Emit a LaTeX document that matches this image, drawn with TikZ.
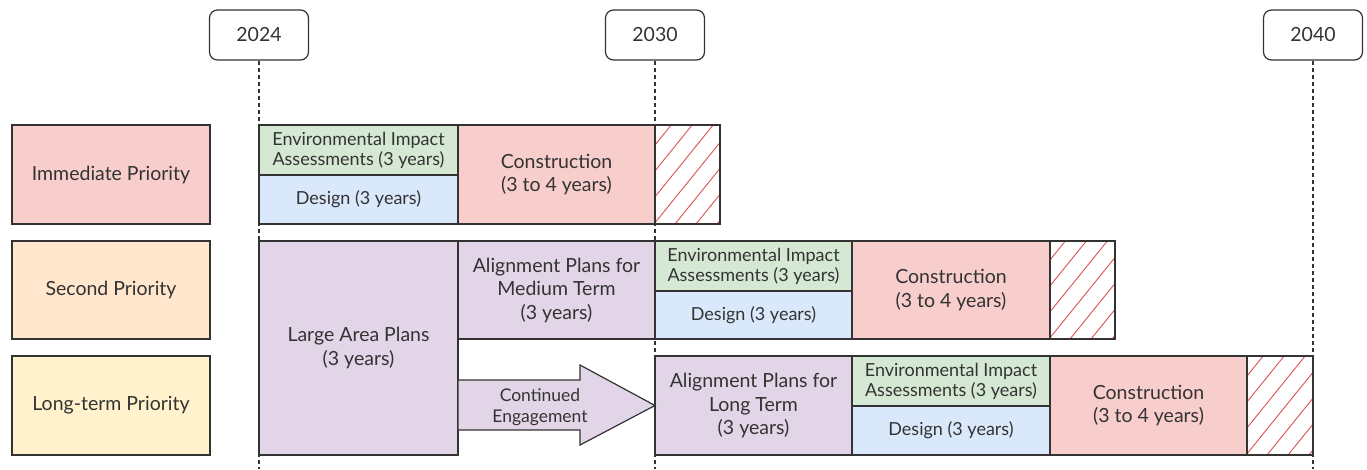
\documentclass[tikz,border=0pt]{standalone}
\usepackage{fontspec}
\setmainfont{Lato}
\definecolor{linec}{HTML}{333333}
\definecolor{textc}{HTML}{333333}
\definecolor{cpink}{HTML}{F8CECC}
\definecolor{cgreen}{HTML}{D5E8D4}
\definecolor{cblue}{HTML}{DAE8FC}
\definecolor{cpurple}{HTML}{E1D5E7}
\definecolor{corange}{HTML}{FFE6CC}
\definecolor{cyellow}{HTML}{FFF2CC}
\definecolor{hatchc}{HTML}{D9534F}
\begin{document}
\begin{tikzpicture}[x=1pt,y=-1pt,
  box/.style={draw=linec, line width=1.2pt, inner sep=0pt, outer sep=0pt, anchor=north west,
    align=center, text=textc, font=\fontsize{19.5}{23.5}\selectfont},
  small/.style={font=\fontsize{18}{20}\selectfont},
  yearbox/.style={draw=linec, line width=1.2pt, rounded corners=8pt, minimum width=99pt,
    minimum height=50pt, inner sep=0pt, text=textc, font=\fontsize{19.5}{23}\selectfont},
  dashline/.style={draw=linec, line width=1.2pt, dash pattern=on 4pt off 3pt},
  hatched/.style={box, fill=white, path picture={
    \foreach \i in {0,...,9}
      \draw[hatchc, line width=0.9pt] ([xshift=\i*21pt-85pt]path picture bounding box.south west) -- ++(85pt,105pt);}},
  arrowline/.style={draw=linec, line width=1.2pt, fill=cpurple, line join=miter}
]
\useasboundingbox (0,0) rectangle (1367,469);

% year markers
\node[yearbox] (y2024) at (259,35) {2024};
\node[yearbox] (y2030) at (655,35) {2030};
\node[yearbox] (y2040) at (1313,35) {2040};
\coordinate (b2024) at (259,469);
\coordinate (b2030) at (655,469);
\coordinate (b2040) at (1313,469);
\draw[dashline] (y2024.south) -- (b2024);
\draw[dashline] (y2030.south) -- (b2030);
\draw[dashline] (y2040.south) -- (b2040);

% priority labels
\node[box, fill=cpink, minimum width=198pt, minimum height=99pt] (p1) at (12,125) {Immediate Priority};
\node[box, fill=corange, minimum width=198pt, minimum height=98pt] (p2) at (12,241) {Second Priority};
\node[box, fill=cyellow, minimum width=198pt, minimum height=99pt] (p3) at (12,356) {Long-term Priority};

% row 1
\node[box, small, fill=cgreen, minimum width=199pt, minimum height=50pt] (eia1) at (259,125) {Environmental Impact\\Assessments (3 years)};
\node[box, small, fill=cblue, minimum width=199pt, minimum height=49pt] (des1) at (259,175) {Design (3 years)};
\node[box, fill=cpink, minimum width=197pt, minimum height=99pt] (con1) at (458,125) {Construction\\(3 to 4 years)};
\node[hatched, minimum width=65pt, minimum height=99pt] (hat1) at (655,125) {};

% row 2
\node[box, fill=cpurple, minimum width=199pt, minimum height=214pt] (lap) at (259,241) {Large Area Plans\\(3 years)};
\node[box, fill=cpurple, minimum width=197pt, minimum height=98pt] (apm) at (458,241) {Alignment Plans for\\Medium Term\\(3 years)};
\node[box, small, fill=cgreen, minimum width=197pt, minimum height=50pt] (eia2) at (655,241) {Environmental Impact\\Assessments (3 years)};
\node[box, small, fill=cblue, minimum width=197pt, minimum height=48pt] (des2) at (655,291) {Design (3 years)};
\node[box, fill=cpink, minimum width=198pt, minimum height=98pt] (con2) at (852,241) {Construction\\(3 to 4 years)};
\node[hatched, minimum width=65pt, minimum height=98pt] (hat2) at (1050,241) {};

% row 3
\node[box, fill=cpurple, minimum width=197pt, minimum height=99pt] (apl) at (655,356) {Alignment Plans for\\Long Term\\(3 years)};
\node[box, small, fill=cgreen, minimum width=198pt, minimum height=50pt] (eia3) at (852,356) {Environmental Impact\\Assessments (3 years)};
\node[box, small, fill=cblue, minimum width=198pt, minimum height=49pt] (des3) at (852,406) {Design (3 years)};
\node[box, fill=cpink, minimum width=197pt, minimum height=99pt] (con3) at (1050,356) {Construction\\(3 to 4 years)};
\node[hatched, minimum width=66pt, minimum height=99pt] (hat3) at (1247,356) {};

% continued engagement arrow
\draw[arrowline] (lap.east |- 0,380) -- (580,380) -- (580,365) -- (apl.west) -- (580,445) -- (580,430) -- (lap.east |- 0,430) -- cycle;
\node[align=center, text=textc, font=\fontsize{17.5}{21.5}\selectfont, inner sep=0pt] (arrtxt) at (540,407) {Continued\\Engagement};
\end{tikzpicture}
\end{document}
